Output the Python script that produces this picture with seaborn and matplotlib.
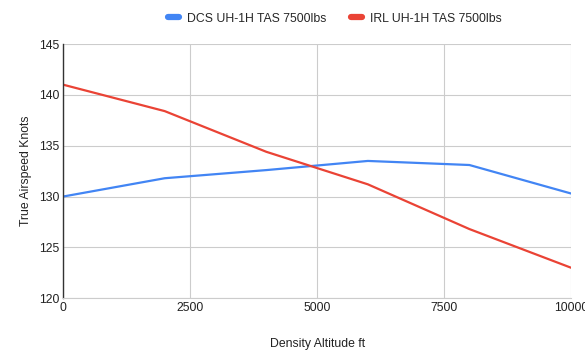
import pandas as pd
import matplotlib.pyplot as plt
import seaborn as sns

altitude = [0, 2000, 4000, 6000, 8000, 10000]
dcs_tas = [130.0, 131.8, 132.6, 133.5, 133.1, 130.3]
irl_tas = [141.0, 138.4, 134.4, 131.2, 126.8, 123.0]
series_names = ["DCS UH-1H TAS 7500lbs", "IRL UH-1H TAS 7500lbs"]
x_ticks = [0, 2500, 5000, 7500, 10000]
y_ticks = [120, 125, 130, 135, 140, 145]

df = pd.DataFrame({
    "alt": altitude * 2,
    "tas": dcs_tas + irl_tas,
    "series": [series_names[0]] * len(altitude) + [series_names[1]] * len(altitude),
})

sns.set_style("whitegrid")
plt.rcParams['font.family'] = ['Liberation Sans', 'DejaVu Sans']
fs = 8.8

fig = plt.figure(figsize=(5.85, 3.55), dpi=100)
ax = fig.add_axes([0.108, 0.16, 0.868, 0.716])

sns.lineplot(data=df, x="alt", y="tas", hue="series", ax=ax,
             palette=["#4285F4", "#EA4335"], linewidth=1.6, legend=True)

ax.set_xlim(0, 10000)
ax.set_ylim(120, 145)
ax.set_xticks(x_ticks)
ax.set_yticks(y_ticks)
ax.tick_params(axis='both', labelsize=fs, colors='#222222', length=0, pad=3)
ax.grid(True, color='#cccccc', linewidth=0.8)
for side in ['top', 'right']:
    ax.spines[side].set_visible(False)
ax.spines['bottom'].set_color('#cccccc')
ax.spines['left'].set_color('#333333')
ax.spines['left'].set_linewidth(1)

ax.set_xlabel("Density Altitude ft", fontsize=fs, color='#222222', labelpad=17)
ax.set_ylabel("True Airspeed Knots", fontsize=fs, color='#222222', labelpad=5)

leg = ax.legend(loc='center', bbox_to_anchor=(0.535, 1.1), ncol=2, frameon=False,
                fontsize=fs, handlelength=0.9, columnspacing=2.0, handletextpad=0.7)
for h in leg.get_lines():
    h.set_linewidth(4.5)
    h.set_solid_capstyle('round')

fig.savefig("out.png", dpi=100)
